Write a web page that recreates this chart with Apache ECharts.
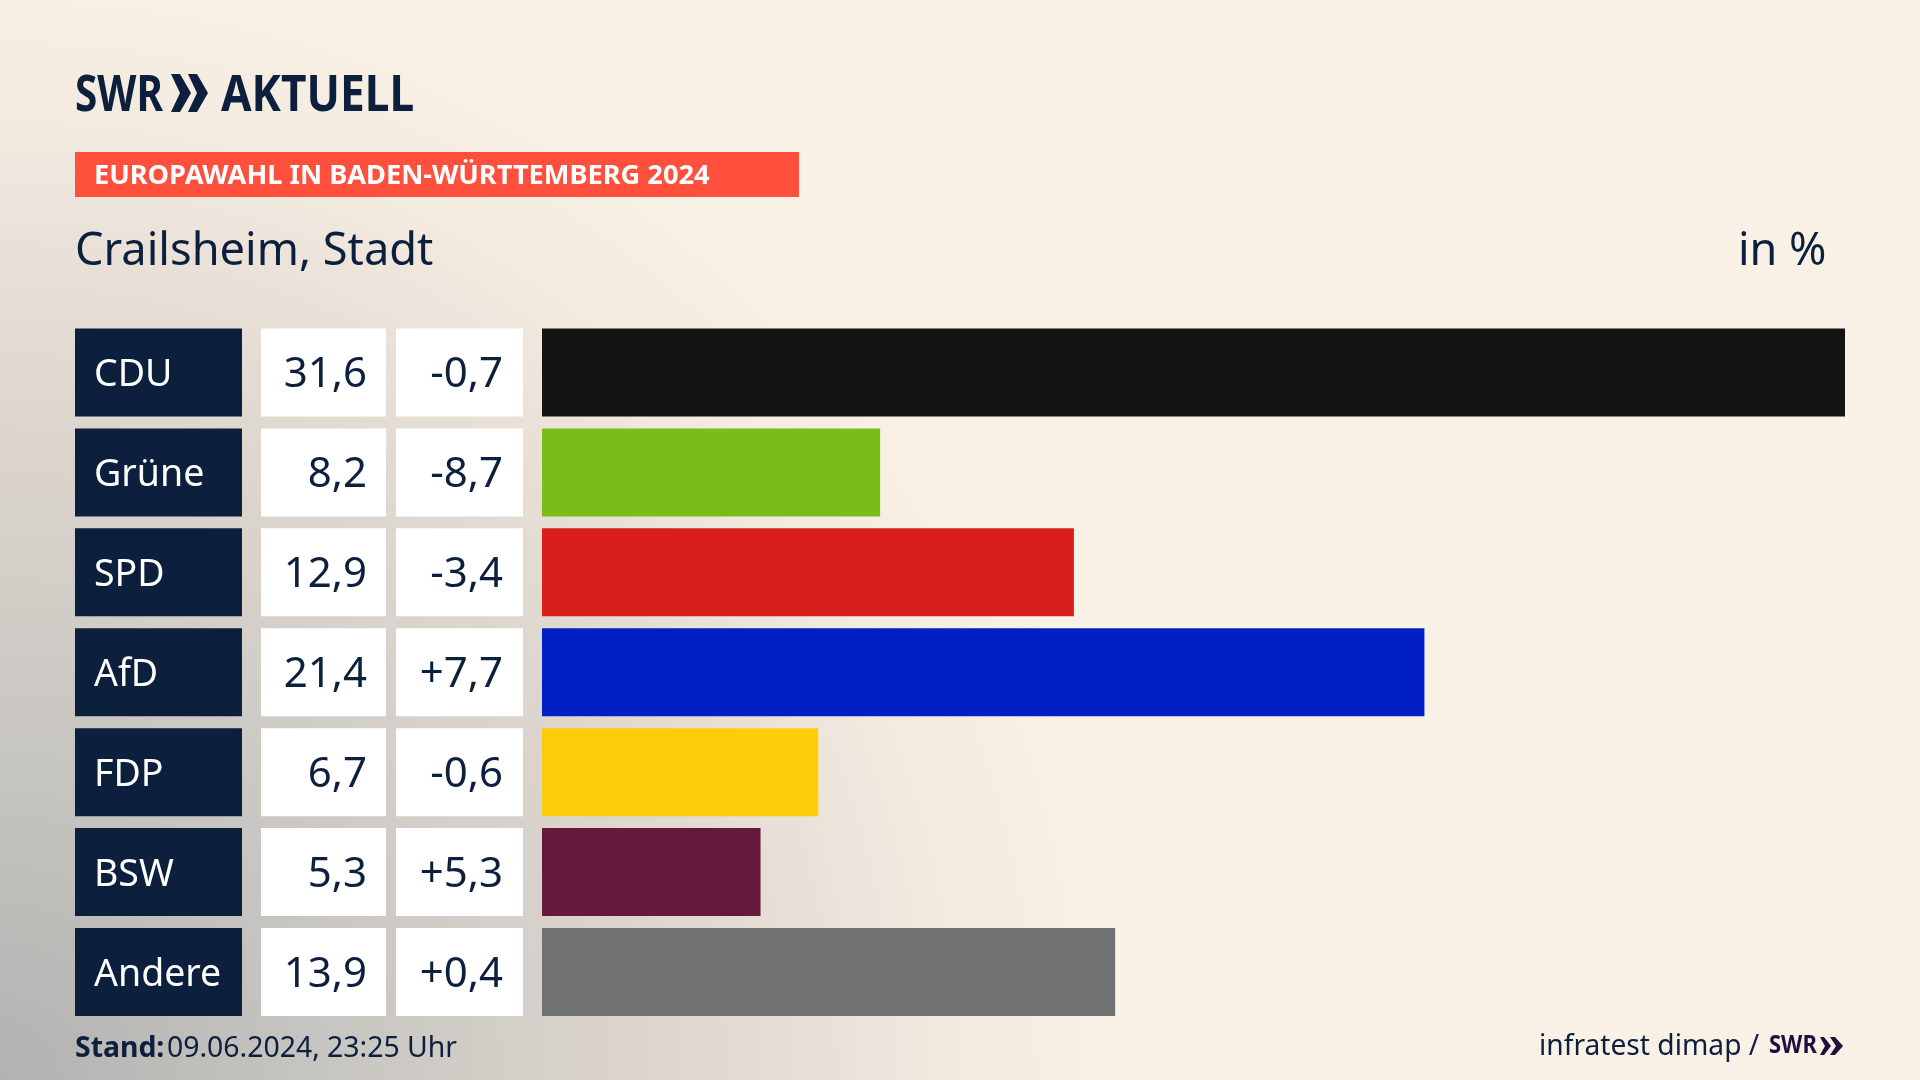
<!DOCTYPE html>
<html>
<head>
<meta charset="utf-8">
<style>
html, body { margin: 0; padding: 0; }
#chart { width: 1920px; height: 1080px; }
</style>
<script src="https://cdn.jsdelivr.net/npm/echarts@6/dist/echarts.min.js"></script>
</head>
<body>
<div id="chart"></div>
<script>
var parties = ['CDU', 'Grüne', 'SPD', 'AfD', 'FDP', 'BSW', 'Andere'];
var shares = [31.6, 8.2, 12.9, 21.4, 6.7, 5.3, 13.9];
var changes = [-0.7, -8.7, -3.4, 7.7, -0.6, 5.3, 0.4];
var barColors = ['#141414', '#7abd18', '#d81f1c', '#0020c6', '#ffcc0a', '#66183d', '#707172'];

var navy = '#0c1f3d';
var font = '"Noto Sans"';

function fmtShare(v) {
	return v.toFixed(1).replace('.', ',');
}
function fmtChange(v) {
	return (v > 0 ? '+' : '') + fmtShare(v);
}

var barData = [];
for (var i = 0; i < shares.length; i++) {
	barData.push({ value: shares[i], itemStyle: { color: barColors[i] } });
}

// the three table columns are y axes whose labels carry the box as background
function columnAxis(labels, margin, align, width, padding, bg, color, size) {
	return {
		type: 'category',
		position: 'left',
		inverse: true,
		data: labels,
		axisLine: { show: false },
		axisTick: { show: false },
		axisLabel: {
			interval: 0,
			margin: margin,
			align: align,
			verticalAlign: 'middle',
			width: width,
			height: 88,
			lineHeight: 88,
			padding: padding,
			backgroundColor: bg,
			formatter: function (v) {
				return '{t|' + v + '}';
			},
			rich: {
				t: { color: color, fontFamily: font, fontSize: size, lineHeight: 70, padding: [24, 0, 0, 0] }
			}
		}
	};
}

var chart = echarts.init(document.getElementById('chart'));
var option = {
	animation: false,
	backgroundColor: {
		type: 'radial',
		x: 0,
		y: 1,
		r: 1.05,
		colorStops: [
			{ offset: 0, color: '#b2b2b0' },
			{ offset: 0.3, color: '#c8c6c2' },
			{ offset: 0.6, color: '#ded7cf' },
			{ offset: 0.85, color: '#f3eae0' },
			{ offset: 1, color: '#faf1e6' }
		]
	},
	grid: { left: 542, right: 75, top: 322.5, height: 699.5, containLabel: false },
	xAxis: { type: 'value', min: 0, max: 31.6, show: false },
	yAxis: [
		columnAxis(parties, 467, 'left', 148, [0, 0, 0, 19], navy, '#ffffff', 37.5),
		columnAxis(shares.map(fmtShare), 156, 'right', 106, [0, 19, 0, 0], '#ffffff', navy, 42),
		columnAxis(changes.map(fmtChange), 19, 'right', 107, [0, 20, 0, 0], '#ffffff', navy, 42)
	],
	series: [{
		type: 'bar',
		barWidth: 88,
		data: barData,
		silent: true
	}],
	graphic: [
		{ type: 'text', left: 75, top: 72, style: { text: 'SWR', fill: navy, font: '700 50px ' + font }, scaleX: 0.81 },
		{ type: 'polygon', shape: { points: [[171, 74], [180, 74], [191, 93], [180, 112], [171, 112], [180, 93]] }, style: { fill: navy } },
		{ type: 'polygon', shape: { points: [[188, 74], [197, 74], [208, 93], [197, 112], [188, 112], [197, 93]] }, style: { fill: navy } },
		{ type: 'text', left: 221, top: 72, style: { text: 'AKTUELL', fill: navy, font: '700 50px ' + font }, scaleX: 0.885 },
		{ type: 'rect', shape: { x: 75, y: 152, width: 724, height: 45 }, style: { fill: '#ff503e' } },
		{ type: 'text', left: 94, top: 163, style: { text: 'EUROPAWAHL IN BADEN-WÜRTTEMBERG 2024', fill: '#ffffff', font: '700 27.2px ' + font } },
		{ type: 'text', left: 75, top: 230, style: { text: 'Crailsheim, Stadt', fill: navy, font: '45.2px ' + font } },
		{ type: 'text', left: 1738, top: 230, style: { text: 'in %', fill: navy, font: '45px ' + font } },
		{ type: 'text', left: 75, top: 1035, style: { text: 'Stand:', fill: navy, font: '700 28.4px ' + font } },
		{ type: 'text', left: 167, top: 1035, style: { text: '09.06.2024, 23:25 Uhr', fill: navy, font: '28.4px ' + font } },
		{ type: 'text', left: 1539, top: 1033, style: { text: 'infratest dimap /', fill: navy, font: '28.2px ' + font } },
		{ type: 'text', left: 1769, top: 1033, style: { text: 'SWR', fill: '#1f0f3f', font: '700 25px ' + font }, scaleX: 0.88 },
		{ type: 'polygon', shape: { points: [[1820, 1037], [1824, 1037], [1831, 1046], [1824, 1055], [1820, 1055], [1825, 1046]] }, style: { fill: '#1f0f3f' } },
		{ type: 'polygon', shape: { points: [[1830, 1037], [1835, 1037], [1843, 1046], [1835, 1055], [1830, 1055], [1836, 1046]] }, style: { fill: '#1f0f3f' } }
	]
};
chart.setOption(option);
</script>
</body>
</html>
